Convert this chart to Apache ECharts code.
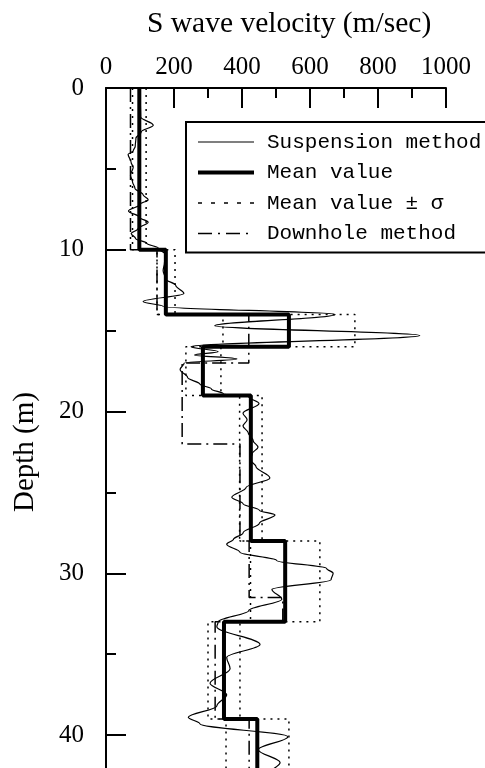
<!DOCTYPE html>
<html>
<head>
<meta charset="utf-8">
<script src="https://cdn.jsdelivr.net/npm/echarts@6/dist/echarts.min.js"></script>
<style>
  html, body { margin: 0; padding: 0; background: #fff; }
  #main { width: 485px; height: 768px; }
</style>
</head>
<body>
<div id="main"></div>
<script>
// suspension method log (depth m, velocity m/sec)
var suspDepth = [0, 0.8, 1.8, 2.3, 2.7, 3.1, 3.6, 3.9, 4.1, 4.6, 4.9, 5.4, 5.8, 6.2, 6.6, 6.9, 7.2, 7.6, 8.0, 8.3, 8.7, 9.0, 9.3, 9.6, 9.9,
  10.3, 10.8, 11.3, 11.8, 12.2, 12.7, 13.2, 13.5, 14.0, 14.7, 15.3, 16.0, 16.3, 16.5, 16.75, 17.0, 17.4, 17.9, 18.3, 18.6, 18.9,
  19.1, 19.5, 20.1, 20.5, 20.9, 21.3, 21.8, 22.2, 22.6, 23.0, 23.4, 24.1, 24.7, 25.3, 25.7, 26.1, 26.4, 26.9, 27.5, 27.9,
  28.2, 28.7, 29.2, 29.7, 30.0, 30.4, 31.0, 31.6, 32.3, 33.0, 33.3, 34.4, 35.2, 35.9, 36.8, 37.5, 38.2, 38.9, 39.3,
  40.1, 40.9, 41.7, 42.5, 43.5];
var suspVel = [100, 101, 102, 139, 104, 88, 86, 80, 65, 74, 80, 72, 78, 85, 109, 124, 100, 66, 100, 124, 94, 74, 87, 120, 154,
  176, 172, 168, 175, 205, 229, 109, 168, 674, 320, 923, 250, 330, 260, 385, 230, 218, 240, 276, 310, 345,
  420, 450, 403, 415, 403, 418, 433, 447, 430, 425, 441, 482, 412, 370, 403, 451, 497, 451, 403, 375,
  355, 394, 502, 649, 668, 662, 488, 517, 420, 330, 326, 453, 355, 365, 306, 355, 326, 242, 276,
  535, 448, 512, 470, 490];

// layered mean value and standard deviation
var layerDepth = [0, 10, 14, 16, 19, 28, 33, 39, 45];
var meanVel = [98, 176, 538, 285, 426, 527, 347, 445];
var upperVel = [118, 203, 732, 338, 459, 629, 394, 538];
var lowerVel = [78, 150, 344, 235, 393, 425, 300, 353];

// downhole method layers
var downDepth = [0, 10, 14, 17, 22, 28, 31.5, 33, 39, 45];
var downVel = [72, 150, 420, 224, 394, 421, 520, 321, 421];

var xTicks = [0, 200, 400, 600, 800, 1000];
var yTicks = [0, 10, 20, 30, 40];

function steps(bounds, vals) {
  var pts = [];
  for (var i = 0; i < vals.length; i++) {
    pts.push([vals[i], bounds[i]]);
    pts.push([vals[i], bounds[i + 1]]);
  }
  return pts;
}

var susp = suspDepth.map(function (d, i) { return [suspVel[i], d]; });

var serif = '"Liberation Serif", "Times New Roman", serif';
var mono = '"Liberation Mono", "DejaVu Sans Mono", monospace';

var chart = echarts.init(document.getElementById('main'));
chart.setOption({
  animation: false,
  backgroundColor: '#fff',
  title: {
    text: 'S wave velocity (m/sec)',
    left: 147, top: 9, padding: 0,
    textStyle: { fontFamily: serif, fontSize: 29.5, fontWeight: 'normal', color: '#000' }
  },
  legend: {
    orient: 'vertical',
    left: 186, top: 122,
    padding: [8, 6, 7, 10],
    itemWidth: 56, itemHeight: 14, itemGap: 6.5,
    borderColor: '#000', borderWidth: 2, backgroundColor: '#fff',
    itemStyle: { opacity: 0 },
    data: [
      { name: 'Suspension method', lineStyle: { width: 1.2 } },
      { name: 'Mean value', lineStyle: { width: 4 } },
      { name: 'Mean value ± σ', lineStyle: { type: [4, 9], width: 1.5 } },
      { name: 'Downhole method', lineStyle: { type: [14, 6, 2, 6], width: 1.5 } }
    ],
    textStyle: { fontFamily: mono, fontSize: 21, lineHeight: 24, color: '#000', padding: [0, 0, 0, 8] }
  },
  grid: { left: 106, top: 88, width: 340, height: 728, containLabel: false, outerBoundsMode: 'none' },
  xAxis: {
    type: 'value', position: 'top',
    min: 0, max: 1000, interval: 200,
    axisLine: { lineStyle: { color: '#000', width: 2 } },
    axisTick: { inside: true, length: 20, lineStyle: { color: '#000', width: 2 } },
    minorTick: { show: true, splitNumber: 2, length: 10, lineStyle: { color: '#000', width: 2 } },
    splitLine: { show: false },
    axisLabel: {
      margin: 8, fontFamily: serif, fontSize: 25, color: '#000',
      customValues: xTicks,
      formatter: function (v) { return String(v); }
    }
  },
  yAxis: {
    type: 'value', inverse: true,
    min: 0, max: 45, interval: 10,
    name: 'Depth (m)', nameLocation: 'middle', nameGap: 66, nameMoveOverlap: false,
    nameTextStyle: { fontFamily: serif, fontSize: 29, color: '#000' },
    axisLine: { lineStyle: { color: '#000', width: 2 } },
    axisTick: { inside: true, length: 20, lineStyle: { color: '#000', width: 2 } },
    minorTick: { show: true, splitNumber: 2, length: 10, lineStyle: { color: '#000', width: 2 } },
    splitLine: { show: false },
    axisLabel: {
      margin: 22, fontFamily: serif, fontSize: 25, color: '#000',
      customValues: yTicks,
      formatter: function (v) { return String(v); }
    }
  },
  series: [
    {
      name: 'Suspension method', type: 'line', data: susp,
      symbol: 'none', smooth: 0.35, smoothMonotone: 'y',
      lineStyle: { color: '#000', width: 1.2 }, itemStyle: { color: '#000' }
    },
    {
      name: 'Mean value ± σ', type: 'line', data: steps(layerDepth, upperVel),
      symbol: 'none',
      lineStyle: { color: '#000', width: 1.5, type: [2, 5] }, itemStyle: { color: '#000' }
    },
    {
      name: 'Mean value ± σ', type: 'line', data: steps(layerDepth, lowerVel),
      symbol: 'none',
      lineStyle: { color: '#000', width: 1.5, type: [2, 5] }, itemStyle: { color: '#000' }
    },
    {
      name: 'Downhole method', type: 'line', data: steps(downDepth, downVel),
      symbol: 'none',
      lineStyle: { color: '#000', width: 1.5, type: [14, 5, 2, 5] }, itemStyle: { color: '#000' }
    },
    {
      name: 'Mean value', type: 'line', data: steps(layerDepth, meanVel),
      symbol: 'none',
      lineStyle: { color: '#000', width: 4 }, itemStyle: { color: '#000' }
    }
  ]
});
</script>
</body>
</html>
